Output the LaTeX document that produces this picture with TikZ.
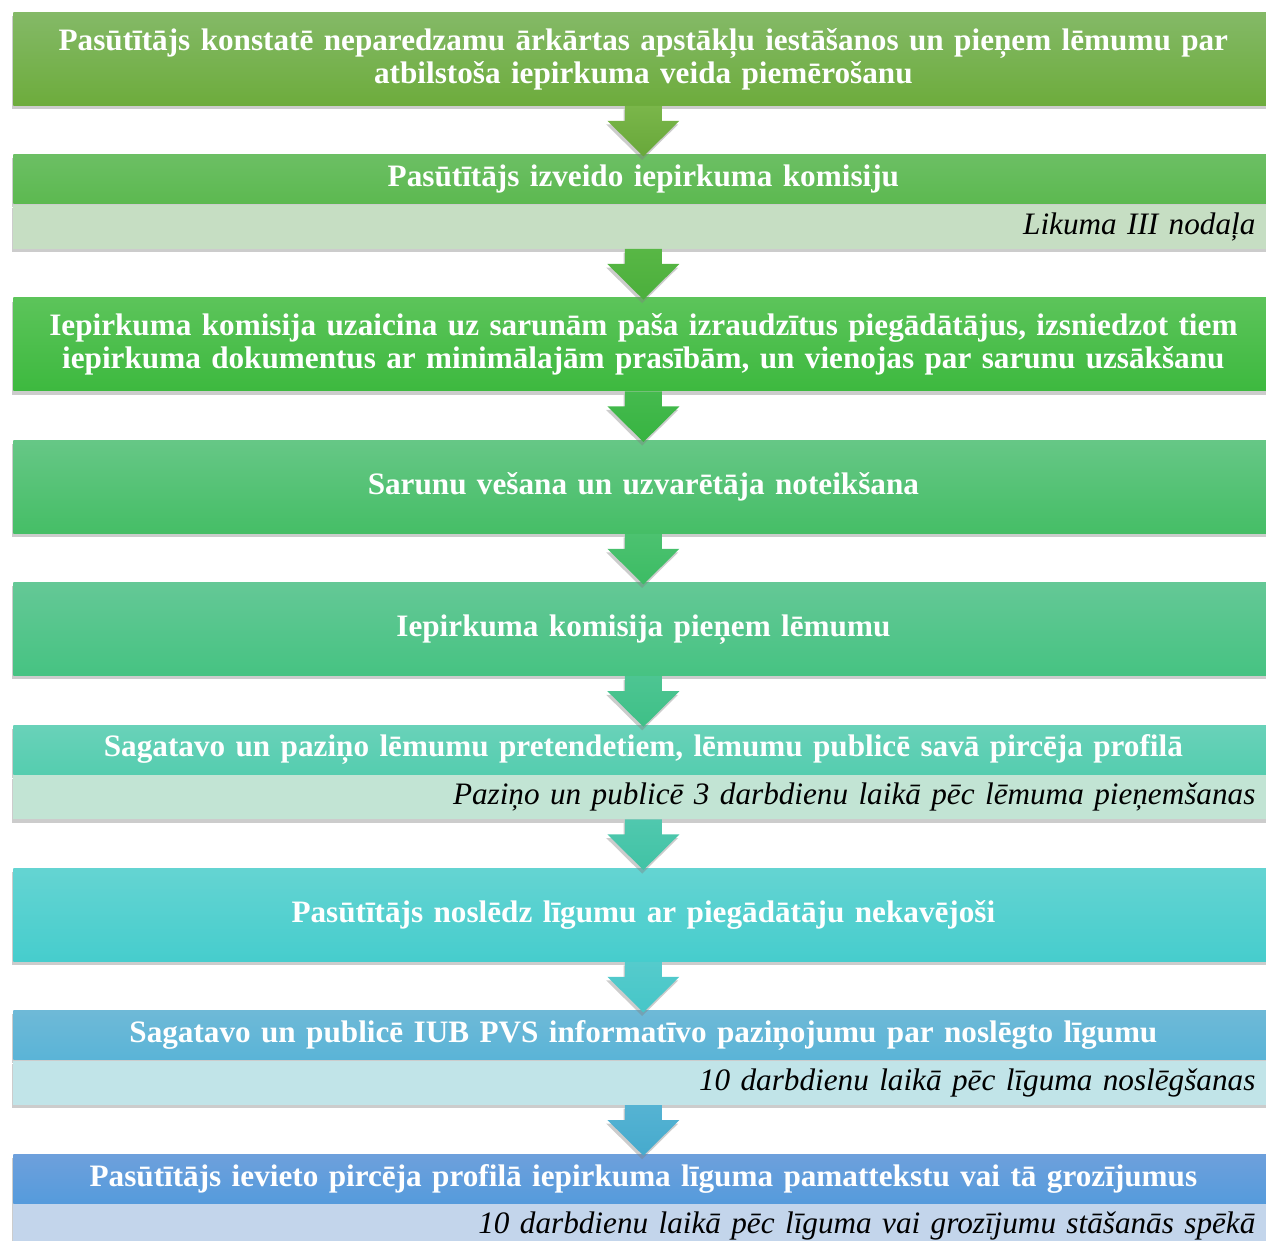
\documentclass[tikz,border=0pt]{standalone}
\usepackage{fontspec}
\setmainfont{Liberation Serif}
\usetikzlibrary{positioning,shadows}
\definecolor{gA}{HTML}{84B967}\definecolor{gAb}{HTML}{6DAC3C}
\definecolor{gB}{HTML}{6CBF64}\definecolor{gBb}{HTML}{5CB950}
\definecolor{gC}{HTML}{5CC45A}\definecolor{gCb}{HTML}{3DB93F}
\definecolor{gD}{HTML}{66C786}\definecolor{gDb}{HTML}{45BE66}
\definecolor{gE}{HTML}{64C896}\definecolor{gEb}{HTML}{46C382}
\definecolor{gF}{HTML}{69D2B9}\definecolor{gFb}{HTML}{55CDAF}
\definecolor{gG}{HTML}{64D4D2}\definecolor{gGb}{HTML}{46CDCD}
\definecolor{gH}{HTML}{6EB9D7}\definecolor{gHb}{HTML}{5AB4D7}
\definecolor{gI}{HTML}{6EA0DC}\definecolor{gIb}{HTML}{559BDC}
\definecolor{nB}{HTML}{C6DEC3}
\definecolor{nF}{HTML}{C2E4D4}
\definecolor{nH}{HTML}{C1E4E8}
\definecolor{nI}{HTML}{C3D5EB}
\definecolor{aA}{HTML}{7AB64A}\definecolor{aAb}{HTML}{68A83A}
\definecolor{aB}{HTML}{58B745}\definecolor{aBb}{HTML}{4BAF3C}
\definecolor{aC}{HTML}{45BA4E}\definecolor{aCb}{HTML}{37B441}
\definecolor{aD}{HTML}{4CC270}\definecolor{aDb}{HTML}{3CBC64}
\definecolor{aE}{HTML}{4DC592}\definecolor{aEb}{HTML}{3EC087}
\definecolor{aF}{HTML}{50C8AE}\definecolor{aFb}{HTML}{41C3A5}
\definecolor{aG}{HTML}{55CBCC}\definecolor{aGb}{HTML}{46C6C8}
\definecolor{aH}{HTML}{55B3D3}\definecolor{aHb}{HTML}{46AACD}

\begin{document}
\begin{tikzpicture}[x=0.5pt, y=-0.5pt, node distance=24.3pt,
  shade/.style={drop shadow={shadow xshift=-0.6pt, shadow yshift=-1.8pt, opacity=0.4}},
  stepbox/.style n args={2}{rectangle, minimum width=630pt, text width=616pt,
    inner xsep=7pt, inner ysep=0pt, align=center, text=white,
    font=\bfseries\fontsize{15.6}{16.5}\selectfont,
    top color=#1, bottom color=#2, shade},
  tall/.style={minimum height=46.5pt},
  head/.style={minimum height=24.5pt},
  notebox/.style={rectangle, fill=#1, minimum width=630pt, text width=612pt,
    inner xsep=9pt, inner ysep=0pt, minimum height=22pt, align=right,
    font=\itshape\fontsize{15.6}{16.5}\selectfont, shade}]
\useasboundingbox (0,0) rectangle (1266,1241);

\node [stepbox={gA}{gAb}, tall, anchor=north west] (s1) at (13,12)
  {Pasūtītājs konstatē neparedzamu ārkārtas apstākļu iestāšanos un pieņem lēmumu par\\ atbilstoša iepirkuma veida piemērošanu};
\node [stepbox={gB}{gBb}, head, below=of s1] (s2) {Pasūtītājs izveido iepirkuma komisiju};
\node [notebox=nB, below=0pt of s2] (n2) {Likuma III nodaļa};
\node [stepbox={gC}{gCb}, tall, below=of n2] (s3)
  {Iepirkuma komisija uzaicina uz sarunām paša izraudzītus piegādātājus, izsniedzot tiem\\ iepirkuma dokumentus ar minimālajām prasībām, un vienojas par sarunu uzsākšanu};
\node [stepbox={gD}{gDb}, tall, below=of s3] (s4) {Sarunu vešana un uzvarētāja noteikšana};
\node [stepbox={gE}{gEb}, tall, below=of s4] (s5) {Iepirkuma komisija pieņem lēmumu};
\node [stepbox={gF}{gFb}, head, below=of s5] (s6)
  {Sagatavo un paziņo lēmumu pretendetiem, lēmumu publicē savā pircēja profilā};
\node [notebox=nF, below=0pt of s6] (n6) {Paziņo un publicē 3 darbdienu laikā pēc lēmuma pieņemšanas};
\node [stepbox={gG}{gGb}, tall, below=of n6] (s7) {Pasūtītājs noslēdz līgumu ar piegādātāju nekavējoši};
\node [stepbox={gH}{gHb}, head, below=of s7] (s8)
  {Sagatavo un publicē IUB PVS informatīvo paziņojumu par noslēgto līgumu};
\node [notebox=nH, below=0pt of s8] (n8) {10 darbdienu laikā pēc līguma noslēgšanas};
\node [stepbox={gI}{gIb}, head, below=of n8] (s9)
  {Pasūtītājs ievieto pircēja profilā iepirkuma līguma pamattekstu vai tā grozījumus};
\node [notebox=nI, below=0pt of s9] (n9) {10 darbdienu laikā pēc līguma vai grozījumu stāšanās spēkā};

\foreach \a/\b/\c in {s1/s2/aA, n2/s3/aB, s3/s4/aC, s4/s5/aD, s5/s6/aE, n6/s7/aF, s7/s8/aG, n8/s9/aH}
  \path [top color=\c, bottom color=\c b, shade]
    ([xshift=-9.25pt]\a.south) -- ([xshift=-9.25pt, yshift=-7.5pt]\a.south)
    -- ([xshift=-18pt, yshift=-7.5pt]\a.south) -- ([yshift=-1pt]\b.north)
    -- ([xshift=18pt, yshift=-7.5pt]\a.south) -- ([xshift=9.25pt, yshift=-7.5pt]\a.south)
    -- ([xshift=9.25pt]\a.south) -- cycle;
\end{tikzpicture}
\end{document}
